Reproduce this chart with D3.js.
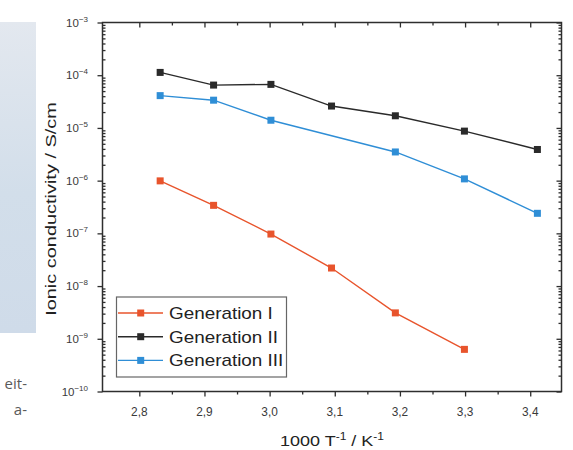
<!DOCTYPE html>
<html><head><meta charset="utf-8">
<script src="https://cdn.jsdelivr.net/npm/d3@7"></script>
<style>html,body{margin:0;padding:0;background:#fff;} svg{display:block;}</style>
</head><body>
<svg id="chart" width="573" height="450"></svg>
<script>
// ---- data ----
const seriesNames = ["Generation I", "Generation II", "Generation III"];
const seriesColors = ["#e8542c", "#2a2a2a", "#2f8ed6"];
const gen1X = [2.832, 2.914, 3.002, 3.095, 3.193, 3.299];
const gen1Y = [9.9e-7, 3.4e-7, 9.7e-8, 2.2e-8, 3.1e-9, 6.3e-10];
const gen2X = [2.832, 2.914, 3.002, 3.095, 3.193, 3.299, 3.411];
const gen2Y = [1.13e-4, 6.5e-5, 6.7e-5, 2.6e-5, 1.7e-5, 8.7e-6, 3.9e-6];
const gen3X = [2.832, 2.914, 3.002, 3.193, 3.299, 3.411];
const gen3Y = [4.1e-5, 3.36e-5, 1.4e-5, 3.5e-6, 1.08e-6, 2.4e-7];
const xTickValues = [2.8, 2.9, 3.0, 3.1, 3.2, 3.3, 3.4];
const xTickLabels = ["2,8", "2,9", "3,0", "3,1", "3,2", "3,3", "3,4"];
const xMinorValues = [2.85, 2.95, 3.05, 3.15, 3.25, 3.35];
const yExponents = [-3, -4, -5, -6, -7, -8, -9, -10];
const yTitle = "Ionic conductivity / S/cm";
const sideText = ["eit-", "a-"];

// ---- layout ----
const svg = d3.select("#chart");
const L = 102.5, R = 561.5, T = 22.5, B = 391.5;
const x = d3.scaleLinear().domain([2.7435, 3.448]).range([L, R]);
const y = d3.scaleLog().domain([1e-10, 1e-3]).range([B, T]);
const axisColor = "#2e2e2e";
const font = "'Liberation Sans', Arial, Helvetica, sans-serif";

// left page fragment
const defs = svg.append("defs");
const gr = defs.append("linearGradient").attr("id", "pg").attr("x1", 0).attr("y1", 0).attr("x2", 0).attr("y2", 1);
gr.append("stop").attr("offset", "0%").attr("stop-color", "#e3e8ef");
gr.append("stop").attr("offset", "55%").attr("stop-color", "#d2deea");
gr.append("stop").attr("offset", "100%").attr("stop-color", "#cfdbe9");
svg.append("rect").attr("x", 0).attr("y", 22).attr("width", 36).attr("height", 311).attr("fill", "url(#pg)");
svg.selectAll("text.side").data(sideText).join("text").attr("class", "side")
  .attr("x", 27).attr("y", (d, i) => 389 + i * 26).attr("text-anchor", "end")
  .attr("font-family", "'Open Sans', sans-serif").attr("font-size", 15).attr("fill", "#5a5a5a").text(d => d);

// frame
svg.append("rect").attr("x", L).attr("y", T).attr("width", R - L).attr("height", B - T)
  .attr("fill", "none").attr("stroke", axisColor).attr("stroke-width", 1.5);

function styleAxis(g) {
  g.select(".domain").remove();
  g.selectAll(".tick line").attr("stroke", axisColor).attr("stroke-width", 1.3);
  g.selectAll(".tick text").remove();
}
const yMajor = yExponents.map(e => Math.pow(10, e));
const yMinor = [];
yExponents.slice(1).forEach(e => { for (let k = 2; k <= 9; k++) yMinor.push(k * Math.pow(10, e)); });

// bottom axis (outward)
svg.append("g").attr("transform", `translate(0,${B})`).call(d3.axisBottom(x).tickValues(xTickValues).tickSize(5)).call(styleAxis);
svg.append("g").attr("transform", `translate(0,${B})`).call(d3.axisBottom(x).tickValues(xMinorValues).tickSize(3)).call(styleAxis);
// top axis (inward)
svg.append("g").attr("transform", `translate(0,${T})`).call(d3.axisTop(x).tickValues(xTickValues).tickSize(-5)).call(styleAxis);
svg.append("g").attr("transform", `translate(0,${T})`).call(d3.axisTop(x).tickValues(xMinorValues).tickSize(-3)).call(styleAxis);
// left axis
svg.append("g").attr("transform", `translate(${L},0)`).call(d3.axisLeft(y).tickValues(yMajor).tickSize(5)).call(styleAxis);
svg.append("g").attr("transform", `translate(${L},0)`).call(d3.axisLeft(y).tickValues(yMinor).tickSize(-3)).call(styleAxis);
// right axis (inward)
svg.append("g").attr("transform", `translate(${R},0)`).call(d3.axisRight(y).tickValues(yMajor).tickSize(-5)).call(styleAxis);
svg.append("g").attr("transform", `translate(${R},0)`).call(d3.axisRight(y).tickValues(yMinor).tickSize(-3)).call(styleAxis);

// x tick labels
svg.selectAll("text.xt").data(xTickValues).join("text").attr("class", "xt")
  .attr("transform", d => `translate(${x(d)},416) scale(0.95,1)`)
  .attr("text-anchor", "middle").attr("font-family", font).attr("font-size", 12.5).attr("fill", "#3a3a3a")
  .text((d, i) => xTickLabels[i]);

// y tick labels
const yl = svg.selectAll("text.yt").data(yExponents).join("text").attr("class", "yt")
  .attr("x", 88).attr("y", d => y(Math.pow(10, d)) + 4)
  .attr("text-anchor", "end").attr("font-family", font).attr("font-size", 11.5).attr("fill", "#3a3a3a");
yl.append("tspan").text("10");
yl.append("tspan").attr("dy", -5).attr("font-size", 8).text(d => "\u2212" + Math.abs(d));

// y title
svg.append("text").attr("transform", "translate(56,209) rotate(-90) scale(1.33,1)")
  .attr("text-anchor", "middle").attr("font-family", font).attr("font-size", 15).attr("fill", "#222")
  .text(yTitle);

// x title
const xt = svg.append("text").attr("transform", "translate(332,446) scale(1.2,1)")
  .attr("text-anchor", "middle").attr("font-family", font).attr("font-size", 15).attr("fill", "#222");
xt.append("tspan").text("1000 T");
xt.append("tspan").attr("dy", -6).attr("font-size", 10).text("-1");
xt.append("tspan").attr("dy", 6).text(" / K");
xt.append("tspan").attr("dy", -6).attr("font-size", 10).text("-1");

// series
const series = [
  { name: seriesNames[0], color: seriesColors[0], xs: gen1X, ys: gen1Y },
  { name: seriesNames[1], color: seriesColors[1], xs: gen2X, ys: gen2Y },
  { name: seriesNames[2], color: seriesColors[2], xs: gen3X, ys: gen3Y }
];
const line = d3.line().x(d => x(d[0])).y(d => y(d[1]));
const ms = 7;
series.forEach(s => {
  const pts = s.xs.map((v, i) => [v, s.ys[i]]);
  svg.append("path").datum(pts).attr("d", line).attr("fill", "none").attr("stroke", s.color).attr("stroke-width", 1.4);
  svg.append("g").selectAll("rect").data(pts).join("rect")
    .attr("x", d => x(d[0]) - ms / 2).attr("y", d => y(d[1]) - ms / 2)
    .attr("width", ms).attr("height", ms).attr("fill", s.color);
});

// legend
const lg = svg.append("g");
lg.append("rect").attr("x", 116.5).attr("y", 297).attr("width", 170).attr("height", 80)
  .attr("fill", "#fff").attr("stroke", "#666").attr("stroke-width", 1.2);
series.forEach((s, i) => {
  const yy = 313 + i * 23.7;
  lg.append("line").attr("x1", 118).attr("x2", 163).attr("y1", yy).attr("y2", yy).attr("stroke", s.color).attr("stroke-width", 1.4);
  lg.append("rect").attr("x", 140.7 - ms / 2).attr("y", yy - ms / 2).attr("width", ms).attr("height", ms).attr("fill", s.color);
  lg.append("text").attr("transform", `translate(169,${yy + 6}) scale(1.18,1)`)
    .attr("font-family", font).attr("font-size", 16).attr("fill", "#222").text(s.name);
});
</script>
</body></html>
